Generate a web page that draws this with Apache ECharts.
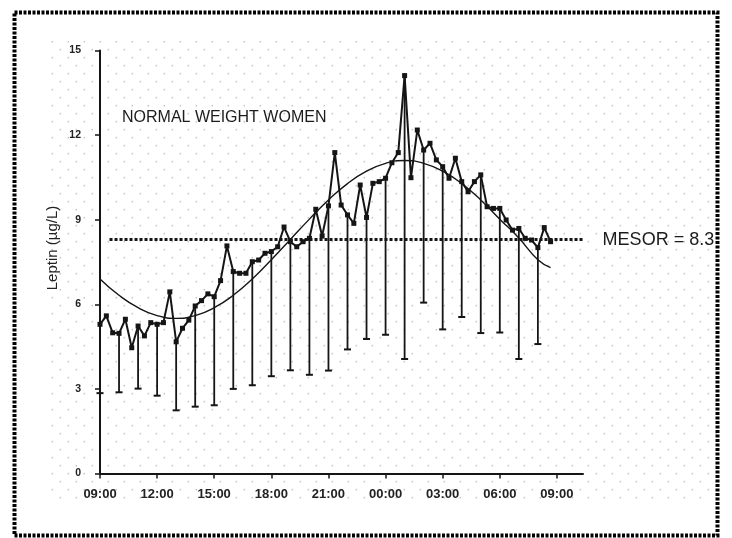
<!DOCTYPE html>
<html>
<head>
<meta charset="utf-8">
<script src="https://cdn.jsdelivr.net/npm/echarts@6/dist/echarts.min.js"></script>
<style>
html,body{margin:0;padding:0;background:#fff;}
#chart{width:732px;height:538px;}
</style>
</head>
<body>
<div id="chart"></div>
<script>
// ---- data ----
const chartTitle = 'NORMAL WEIGHT WOMEN';
const yAxisTitle = 'Leptin (µg/L)';
const xTickHours = [9, 12, 15, 18, 21, 24, 27, 30, 33];
const yTicks = [0, 3, 6, 9, 12, 15];

const sampleTimes = [
 '09:00','09:20','09:40','10:00','10:20','10:40','11:00','11:20','11:40','12:00','12:20','12:40',
 '13:00','13:20','13:40','14:00','14:20','14:40','15:00','15:20','15:40','16:00','16:20','16:40',
 '17:00','17:20','17:40','18:00','18:20','18:40','19:00','19:20','19:40','20:00','20:20','20:40',
 '21:00','21:20','21:40','22:00','22:20','22:40','23:00','23:20','23:40','00:00','00:20','00:40',
 '01:00','01:20','01:40','02:00','02:20','02:40','03:00','03:20','03:40','04:00','04:20','04:40',
 '05:00','05:20','05:40','06:00','06:20','06:40','07:00','07:20','07:40','08:00','08:20','08:40'
];
const leptinMean = [
 5.29,5.59,4.99,4.97,5.47,4.46,5.23,4.88,5.35,5.29,5.35,6.44,
 4.67,5.15,5.44,5.94,6.13,6.37,6.27,6.84,8.07,7.16,7.10,7.10,
 7.51,7.57,7.81,7.87,8.04,8.74,8.22,8.04,8.22,8.34,9.37,8.42,
 9.49,11.38,9.52,9.17,8.87,10.23,9.08,10.29,10.35,10.47,11.02,11.38,
 14.11,10.49,12.18,11.47,11.71,11.12,10.88,10.47,11.18,10.35,9.99,10.35,
 10.59,9.46,9.40,9.40,8.99,8.63,8.69,8.34,8.28,8.01,8.72,8.22
];

const errorTimes = [
 '09:00','10:00','11:00','12:00','13:00','14:00','15:00','16:00','17:00','18:00','19:00','20:00',
 '21:00','22:00','23:00','00:00','01:00','02:00','03:00','04:00','05:00','06:00','07:00','08:00'
];
const errorLow = [
 2.85,2.88,3.01,2.76,2.24,2.37,2.42,3.00,3.13,3.45,3.66,3.50,
 3.65,4.40,4.77,4.92,4.06,6.06,5.11,5.55,4.98,5.00,4.06,4.59
];

const fitTimes = [
 '09:00','10:00','11:00','12:00','13:00','14:00','15:00','16:00','17:00','18:00','19:00','20:00',
 '21:00','22:00','23:00','00:00','01:00','02:00','03:00','04:00','05:00','06:00','07:00','08:00','08:40'
];
const fitValues = [
 6.90,6.32,5.88,5.60,5.50,5.60,5.88,6.32,6.90,7.58,8.30,9.02,
 9.70,10.28,10.72,11.00,11.10,11.00,10.72,10.28,9.70,9.02,8.35,7.58,7.30
];

const mesor = 8.3;
const mesorLabel = 'MESOR = 8.3';
const mesorStart = 9.5;
const mesorEnd = 34.35;

// ---- helpers ----
function toHour(t) {
  const [h, m] = t.split(':').map(Number);
  let v = h + m / 60;
  if (v < 9) v += 24;
  return v;
}
function fmtHour(v) {
  const h = Math.round(v) % 24;
  return (h < 10 ? '0' : '') + h + ':00';
}

const meanData = sampleTimes.map((t, i) => [toHour(t), leptinMean[i]]);
const meanByTime = {};
sampleTimes.forEach((t, i) => { meanByTime[t] = leptinMean[i]; });
const errorData = errorTimes.map((t, i) => [toHour(t), errorLow[i], meanByTime[t]]);
const fitData = fitTimes.map((t, i) => [toHour(t), fitValues[i]]);

// dotted paper background pattern
const tile = document.createElement('canvas');
tile.width = 16; tile.height = 16;
const tctx = tile.getContext('2d');
tctx.fillStyle = '#c6c6c6';
[[4.3, 9.7], [12.3, 1.7]].forEach(([x, y]) => {
  tctx.beginPath(); tctx.arc(x, y, 0.85, 0, Math.PI * 2); tctx.fill();
});

const chart = echarts.init(document.getElementById('chart'), null, {renderer: 'canvas'});
const FONT = '"Liberation Sans", Arial, sans-serif';
const INK = '#151515';

chart.setOption({
  animation: false,
  backgroundColor: '#fff',
  title: {
    text: chartTitle,
    left: 122, top: 110, padding: 0,
    textStyle: {fontFamily: FONT, fontSize: 16, fontWeight: 'normal', color: '#1c1c1c'}
  },
  graphic: [
    {
      type: 'rect', z: -10, silent: true,
      shape: {x: 48, y: 41, width: 670, height: 459},
      style: {fill: {image: tile, repeat: 'repeat'}}
    },
    {
      type: 'rect', z: 100, silent: true,
      shape: {x: 14.5, y: 12.5, width: 703, height: 523},
      style: {fill: 'none', stroke: '#000', lineWidth: 4, lineDash: [3, 1.5]}
    },
    {
      type: 'text', z: 50, silent: true,
      x: 53, y: 248, rotation: Math.PI / 2,
      style: {text: yAxisTitle, fontFamily: FONT, fontSize: 15, fill: '#222',
              align: 'center', verticalAlign: 'middle'}
    },
    {
      type: 'line', z: 5, silent: true,
      shape: {x1: 0, y1: 0, x2: 0, y2: 0},
      id: 'mesorLine',
      style: {stroke: INK, lineWidth: 3, lineDash: [3, 2]}
    },
    {
      type: 'text', z: 5, silent: true, id: 'mesorText',
      x: 0, y: 0,
      style: {text: mesorLabel, fontFamily: FONT, fontSize: 18, fill: '#1c1c1c',
              align: 'left', verticalAlign: 'middle'}
    }
  ],
  grid: {left: 100, top: 50.5, right: 149, bottom: 64.5},
  xAxis: {
    type: 'value', min: 9, max: 34.37,
    axisLine: {show: true, lineStyle: {color: INK, width: 2}},
    axisTick: {show: true, customValues: xTickHours, length: 5, lineStyle: {color: INK, width: 1.5}},
    axisLabel: {
      customValues: xTickHours, formatter: fmtHour, margin: 14,
      fontFamily: FONT, fontSize: 13, fontWeight: 'bold', color: '#222'
    },
    splitLine: {show: false}
  },
  yAxis: {
    type: 'value', min: 0, max: 15, interval: 3,
    axisLine: {show: true, lineStyle: {color: INK, width: 2}},
    axisTick: {show: true, length: 5, lineStyle: {color: INK, width: 1.5}},
    axisLabel: {
      margin: 19, fontFamily: FONT, fontSize: 10.5, fontWeight: 'bold', color: '#222',
      formatter: v => (yTicks.indexOf(v) >= 0 ? String(v) : '')
    },
    splitLine: {show: false}
  },
  series: [
    {
      type: 'custom',
      name: 'SD',
      data: errorData,
      z: 2,
      renderItem: function (params, api) {
        const x = api.value(0);
        const lo = api.coord([x, api.value(1)]);
        const hi = api.coord([x, api.value(2)]);
        const style = {stroke: INK, lineWidth: 1.8};
        return {
          type: 'group',
          children: [
            {type: 'line', shape: {x1: lo[0], y1: lo[1], x2: hi[0], y2: hi[1]}, style: style},
            {type: 'line', shape: {x1: lo[0] - 3.5, y1: lo[1], x2: lo[0] + 3.5, y2: lo[1]}, style: {stroke: INK, lineWidth: 2}}
          ]
        };
      }
    },
    {
      type: 'line',
      name: 'Mean',
      data: meanData,
      z: 3,
      symbol: 'rect', symbolSize: 5,
      itemStyle: {color: INK},
      lineStyle: {color: INK, width: 2}
    },
    {
      type: 'line',
      name: 'Cosinor fit',
      data: fitData,
      z: 4,
      smooth: 0.5,
      symbol: 'none',
      lineStyle: {color: INK, width: 1.4}
    }
  ]
});

// position the MESOR reference line and its label through the axis scales
const p0 = chart.convertToPixel({gridIndex: 0}, [mesorStart, mesor]);
const p1 = chart.convertToPixel({gridIndex: 0}, [mesorEnd, mesor]);
chart.setOption({
  graphic: [
    {id: 'mesorLine', shape: {x1: p0[0], y1: p0[1], x2: p1[0], y2: p1[1]}},
    {id: 'mesorText', x: p1[0] + 20, y: p1[1] + 1}
  ]
});
</script>
</body>
</html>
